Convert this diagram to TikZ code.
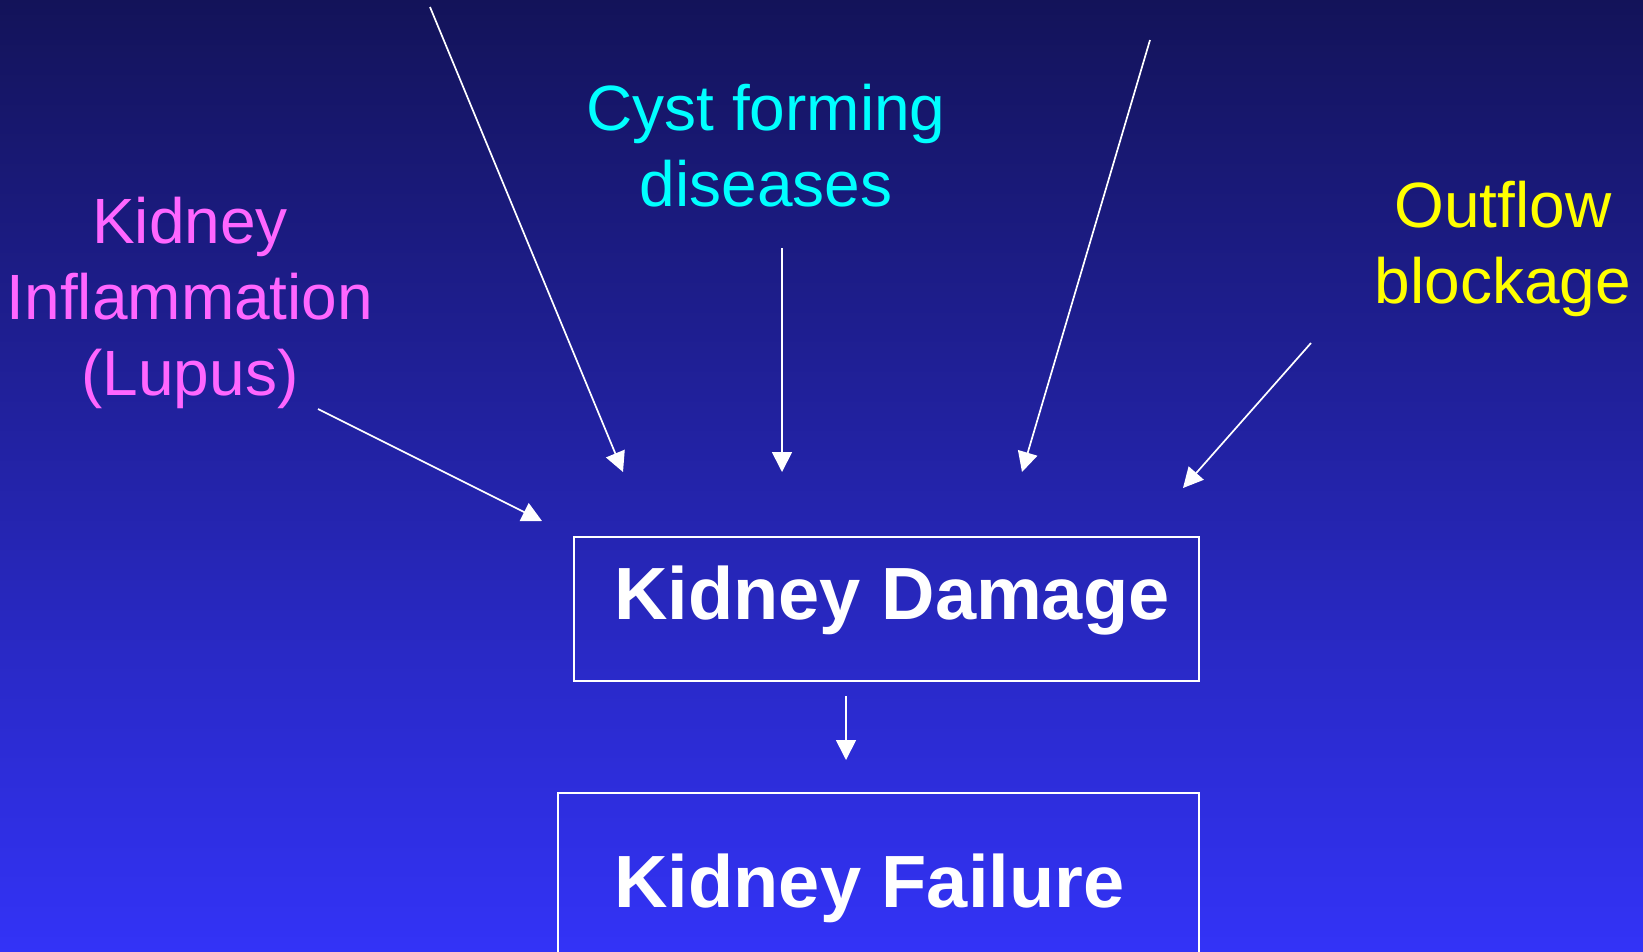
\documentclass[tikz,border=0pt]{standalone}
\usepackage{fontspec}
\setmainfont{Liberation Sans}
\usetikzlibrary{arrows.meta}
\definecolor{bgtop}{HTML}{131359}
\definecolor{bgbot}{HTML}{3333F7}
\definecolor{lupus}{HTML}{FF66FF}
\definecolor{cyst}{HTML}{00FFFF}
\definecolor{outflow}{HTML}{FFFF00}

\begin{document}
\begin{tikzpicture}[x=1pt, y=-1pt, >={Triangle[length=20pt,width=20pt]},
    cause/.style={align=center, anchor=base, inner sep=0pt, font=\fontsize{64}{76}\selectfont},
    stage/.style={draw=white, line width=2pt, inner sep=0pt},
    stagetext/.style={white, anchor=base, inner sep=0pt, font=\bfseries\fontsize{74}{80}\selectfont},
    arr/.style={->, white, line width=1.7pt}]
    \useasboundingbox (0,0) rectangle (1643,951);
    \shade[top color=bgtop, bottom color=bgbot] (0,0) rectangle (1643,951);
    \clip (0,0) rectangle (1643,951);
    % causes
    \node[cause, lupus] (infl) at (190,395) {Kidney\\Inflammation\\(Lupus)};
    \node[cause, cyst] (cysts) at (766,206) {Cyst forming\\diseases};
    \node[cause, outflow] (block) at (1503,303) {Outflow\\blockage};
    % stages
    \node[stage, minimum width=625pt, minimum height=144pt] (damage) at (886.5,609) {};
    \node[stagetext] (damagetxt) at (892,619) {Kidney Damage};
    \node[stage, minimum width=641pt, minimum height=207pt] (failure) at (878.5,896.5) {};
    \node[stagetext] (failuretxt) at (869.5,907) {Kidney Failure};
    % arrow ends
    \coordinate (a1) at (430,7);    \coordinate (b1) at (623,472);
    \coordinate (a2) at (782,248);  \coordinate (b2) at (782,472);
    \coordinate (a3) at (1150,40);  \coordinate (b3) at (1022,472);
    \coordinate (a4) at (1311,343); \coordinate (b4) at (1183,488);
    \coordinate (a5) at (318,409);  \coordinate (b5) at (542,521);
    \coordinate (d1) at (846,696);  \coordinate (d2) at (846,760);
    \foreach \i in {1,...,5} { \draw[arr] (a\i) -- (b\i); }
    \draw[arr] (d1) -- (d2);
  \end{tikzpicture}
\end{document}
